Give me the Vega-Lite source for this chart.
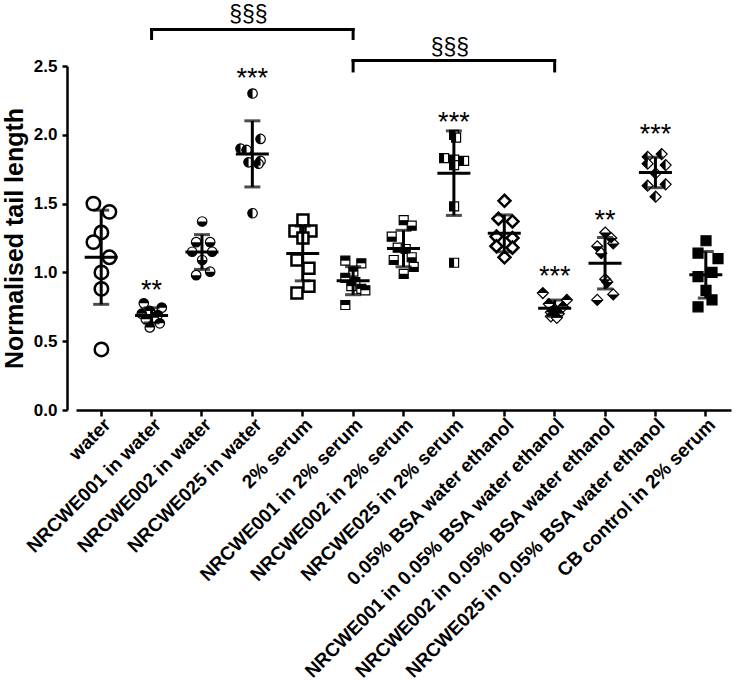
{
"$schema":"https://vega.github.io/schema/vega-lite/v6.json",
"width":675,"height":344,
"autosize":{"type":"none"},
"padding":{"left":67,"top":66,"right":3,"bottom":276},
"background":"white",
"config":{"font":"Liberation Sans","view":{"stroke":null},"axis":{"grid":false,"domainColor":"black","tickColor":"black","labelColor":"black","titleColor":"black","domainWidth":2.5,"tickWidth":2.5}},
"datasets":{
"pts":[
{"group":"water","rep":3,"value":1.50},{"group":"water","rep":11,"value":1.44},{"group":"water","rep":7,"value":1.29},{"group":"water","rep":3,"value":1.22},{"group":"water","rep":11,"value":1.11},{"group":"water","rep":7,"value":1.00},{"group":"water","rep":7,"value":0.88},{"group":"water","rep":7,"value":0.44},
{"group":"NRCWE001 in water","rep":3,"value":0.775},{"group":"NRCWE001 in water","rep":12,"value":0.744},{"group":"NRCWE001 in water","rep":6,"value":0.72},{"group":"NRCWE001 in water","rep":2,"value":0.70},{"group":"NRCWE001 in water","rep":10,"value":0.69},{"group":"NRCWE001 in water","rep":8,"value":0.67},{"group":"NRCWE001 in water","rep":4,"value":0.66},{"group":"NRCWE001 in water","rep":11,"value":0.63},{"group":"NRCWE001 in water","rep":6,"value":0.60},
{"group":"NRCWE002 in water","rep":7,"value":1.37},{"group":"NRCWE002 in water","rep":4,"value":1.22},{"group":"NRCWE002 in water","rep":11,"value":1.22},{"group":"NRCWE002 in water","rep":2,"value":1.15},{"group":"NRCWE002 in water","rep":12,"value":1.15},{"group":"NRCWE002 in water","rep":7,"value":1.09},{"group":"NRCWE002 in water","rep":4,"value":0.98},{"group":"NRCWE002 in water","rep":11,"value":1.005},
{"group":"NRCWE025 in water","rep":7,"value":2.30},{"group":"NRCWE025 in water","rep":11,"value":1.97},{"group":"NRCWE025 in water","rep":1,"value":1.90},{"group":"NRCWE025 in water","rep":4,"value":1.89},{"group":"NRCWE025 in water","rep":11,"value":1.81},{"group":"NRCWE025 in water","rep":5,"value":1.80},{"group":"NRCWE025 in water","rep":10,"value":1.79},{"group":"NRCWE025 in water","rep":7,"value":1.43},
{"group":"2% serum","rep":7,"value":1.38},{"group":"2% serum","rep":3,"value":1.30},{"group":"2% serum","rep":11,"value":1.30},{"group":"2% serum","rep":7,"value":1.25},{"group":"2% serum","rep":4,"value":1.09},{"group":"2% serum","rep":10,"value":1.03},{"group":"2% serum","rep":10,"value":0.90},{"group":"2% serum","rep":4,"value":0.85},
{"group":"NRCWE001 in 2% serum","rep":3,"value":1.085},{"group":"NRCWE001 in 2% serum","rep":11,"value":1.066},{"group":"NRCWE001 in 2% serum","rep":7,"value":1.005},{"group":"NRCWE001 in 2% serum","rep":3,"value":0.96},{"group":"NRCWE001 in 2% serum","rep":8,"value":0.93},{"group":"NRCWE001 in 2% serum","rep":6,"value":0.90},{"group":"NRCWE001 in 2% serum","rep":11,"value":0.88},{"group":"NRCWE001 in 2% serum","rep":13,"value":0.87},{"group":"NRCWE001 in 2% serum","rep":3,"value":0.763},
{"group":"NRCWE002 in 2% serum","rep":7,"value":1.38},{"group":"NRCWE002 in 2% serum","rep":11,"value":1.34},{"group":"NRCWE002 in 2% serum","rep":1,"value":1.26},{"group":"NRCWE002 in 2% serum","rep":4,"value":1.18},{"group":"NRCWE002 in 2% serum","rep":8,"value":1.17},{"group":"NRCWE002 in 2% serum","rep":11,"value":1.11},{"group":"NRCWE002 in 2% serum","rep":2,"value":1.09},{"group":"NRCWE002 in 2% serum","rep":12,"value":1.04},{"group":"NRCWE002 in 2% serum","rep":7,"value":0.99},
{"group":"NRCWE025 in 2% serum","rep":7,"value":2.00},{"group":"NRCWE025 in 2% serum","rep":8,"value":1.98},{"group":"NRCWE025 in 2% serum","rep":2,"value":1.83},{"group":"NRCWE025 in 2% serum","rep":7,"value":1.82},{"group":"NRCWE025 in 2% serum","rep":12,"value":1.81},{"group":"NRCWE025 in 2% serum","rep":7,"value":1.78},{"group":"NRCWE025 in 2% serum","rep":7,"value":1.48},{"group":"NRCWE025 in 2% serum","rep":7,"value":1.07},
{"group":"0.05% BSA water ethanol","rep":7,"value":1.52},{"group":"0.05% BSA water ethanol","rep":4,"value":1.39},{"group":"0.05% BSA water ethanol","rep":11,"value":1.37},{"group":"0.05% BSA water ethanol","rep":3,"value":1.26},{"group":"0.05% BSA water ethanol","rep":11,"value":1.25},{"group":"0.05% BSA water ethanol","rep":3,"value":1.19},{"group":"0.05% BSA water ethanol","rep":11,"value":1.18},{"group":"0.05% BSA water ethanol","rep":7,"value":1.11},
{"group":"NRCWE001 in 0.05% BSA water ethanol","rep":1,"value":0.85},{"group":"NRCWE001 in 0.05% BSA water ethanol","rep":13,"value":0.80},{"group":"NRCWE001 in 0.05% BSA water ethanol","rep":4,"value":0.77},{"group":"NRCWE001 in 0.05% BSA water ethanol","rep":11,"value":0.75},{"group":"NRCWE001 in 0.05% BSA water ethanol","rep":7,"value":0.73},{"group":"NRCWE001 in 0.05% BSA water ethanol","rep":5,"value":0.71},{"group":"NRCWE001 in 0.05% BSA water ethanol","rep":9,"value":0.70},{"group":"NRCWE001 in 0.05% BSA water ethanol","rep":5,"value":0.68},{"group":"NRCWE001 in 0.05% BSA water ethanol","rep":8,"value":0.67},
{"group":"NRCWE002 in 0.05% BSA water ethanol","rep":7,"value":1.29},{"group":"NRCWE002 in 0.05% BSA water ethanol","rep":10,"value":1.25},{"group":"NRCWE002 in 0.05% BSA water ethanol","rep":11,"value":1.21},{"group":"NRCWE002 in 0.05% BSA water ethanol","rep":3,"value":1.19},{"group":"NRCWE002 in 0.05% BSA water ethanol","rep":5,"value":1.14},{"group":"NRCWE002 in 0.05% BSA water ethanol","rep":7,"value":0.95},{"group":"NRCWE002 in 0.05% BSA water ethanol","rep":8,"value":0.93},{"group":"NRCWE002 in 0.05% BSA water ethanol","rep":11,"value":0.84},{"group":"NRCWE002 in 0.05% BSA water ethanol","rep":3,"value":0.80},
{"group":"NRCWE025 in 0.05% BSA water ethanol","rep":10,"value":1.86},{"group":"NRCWE025 in 0.05% BSA water ethanol","rep":3,"value":1.84},{"group":"NRCWE025 in 0.05% BSA water ethanol","rep":3,"value":1.79},{"group":"NRCWE025 in 0.05% BSA water ethanol","rep":12,"value":1.78},{"group":"NRCWE025 in 0.05% BSA water ethanol","rep":7,"value":1.72},{"group":"NRCWE025 in 0.05% BSA water ethanol","rep":12,"value":1.64},{"group":"NRCWE025 in 0.05% BSA water ethanol","rep":3,"value":1.63},{"group":"NRCWE025 in 0.05% BSA water ethanol","rep":7,"value":1.55},
{"group":"CB control in 2% serum","rep":7,"value":1.23},{"group":"CB control in 2% serum","rep":3,"value":1.14},{"group":"CB control in 2% serum","rep":13,"value":1.10},{"group":"CB control in 2% serum","rep":10,"value":1.00},{"group":"CB control in 2% serum","rep":3,"value":0.97},{"group":"CB control in 2% serum","rep":7,"value":0.87},{"group":"CB control in 2% serum","rep":10,"value":0.80},{"group":"CB control in 2% serum","rep":3,"value":0.75}
],
"ann":[
{"group":"NRCWE001 in water","label":"**","y":0.805},
{"group":"NRCWE025 in water","label":"***","y":2.351},
{"group":"NRCWE025 in 2% serum","label":"***","y":2.029},
{"group":"NRCWE001 in 0.05% BSA water ethanol","label":"***","y":0.907},
{"group":"NRCWE002 in 0.05% BSA water ethanol","label":"**","y":1.319},
{"group":"NRCWE025 in 0.05% BSA water ethanol","label":"***","y":1.939}
],
"brackets":[
{"from":"NRCWE001 in water","to":"NRCWE001 in 2% serum","top":2.765,"foot":2.70,"mid":"NRCWE025 in water","label":"§§§","ly":2.82},
{"from":"NRCWE001 in 2% serum","to":"NRCWE001 in 0.05% BSA water ethanol","top":2.54,"foot":2.464,"mid":"NRCWE025 in 2% serum","label":"§§§","ly":2.58}
]
},
"encoding":{
"x":{"field":"group","type":"nominal","scale":{"type":"band","domain":["water","NRCWE001 in water","NRCWE002 in water","NRCWE025 in water","2% serum","NRCWE001 in 2% serum","NRCWE002 in 2% serum","NRCWE025 in 2% serum","0.05% BSA water ethanol","NRCWE001 in 0.05% BSA water ethanol","NRCWE002 in 0.05% BSA water ethanol","NRCWE025 in 0.05% BSA water ethanol","CB control in 2% serum"],"range":[9,664],"paddingInner":0,"paddingOuter":0},
"axis":{"title":null,"labelAngle":-45,"labelFontSize":19,"labelFontWeight":"bold","labelLimit":600,"tickSize":6,"labelPadding":-1,"bandPosition":0.5}},
"y":{"field":"value","type":"quantitative","scale":{"domain":[0,2.5],"nice":false},
"axis":{"title":"Normalised tail length","titleFontSize":25,"titleFontWeight":"bold","titlePadding":6,"values":[0,0.5,1,1.5,2,2.5],"format":".1f","labelFontSize":17,"labelFontWeight":"bold","tickSize":5,"labelPadding":5}}
},
"layer":[
{"data":{"name":"pts"},
"mark":{"type":"point","filled":false,"stroke":"black","opacity":1},
"encoding":{
"xOffset":{"field":"rep","type":"ordinal","scale":{"type":"point","domain":[1,2,3,4,5,6,7,8,9,10,11,12,13],"range":[13.4,37.4],"padding":0}},
"shape":{"field":"group","type":"nominal","legend":null,"scale":{"domain":["water","NRCWE001 in water","NRCWE002 in water","NRCWE025 in water","2% serum","NRCWE001 in 2% serum","NRCWE002 in 2% serum","NRCWE025 in 2% serum","0.05% BSA water ethanol","NRCWE001 in 0.05% BSA water ethanol","NRCWE002 in 0.05% BSA water ethanol","NRCWE025 in 0.05% BSA water ethanol","CB control in 2% serum"],"range":["circle","circle","circle","circle","square","square","square","square","diamond","diamond","diamond","diamond","square"]}},
"fill":{"condition":{"test":"datum.group === 'CB control in 2% serum'","value":"black"},"value":"white"},
"strokeWidth":{"condition":{"test":"datum.group === 'water' || datum.group === '2% serum' || datum.group === '0.05% BSA water ethanol'","value":2.5},"value":1.2},
"size":{"condition":[
{"test":"datum.group === 'water'","value":180},
{"test":"datum.group === '2% serum'","value":121},
{"test":"datum.group === '0.05% BSA water ethanol'","value":144},
{"test":"datum.group === 'CB control in 2% serum'","value":100},
{"test":"indexof(datum.group,'BSA') >= 0","value":121},
{"test":"indexof(datum.group,'serum') >= 0","value":81}
],"value":90}
}},
{"data":{"name":"pts"},
"transform":[{"filter":"indexof(datum.group,'NRCWE') === 0"}],
"mark":{"type":"point","filled":true,"fill":"black","strokeWidth":0,"opacity":1},
"encoding":{
"xOffset":{"field":"rep","type":"ordinal","scale":{"type":"point","domain":[1,2,3,4,5,6,7,8,9,10,11,12,13],"range":[13.4,37.4],"padding":0}},
"shape":{"field":"group","type":"nominal","legend":null,"scale":{"domain":["NRCWE001 in water","NRCWE002 in water","NRCWE025 in water","NRCWE001 in 2% serum","NRCWE002 in 2% serum","NRCWE025 in 2% serum","NRCWE001 in 0.05% BSA water ethanol","NRCWE002 in 0.05% BSA water ethanol","NRCWE025 in 0.05% BSA water ethanol"],"range":["M -1 0 A 1 1 0 0 1 1 0 Z","M -1 0 A 1 1 0 0 0 1 0 Z","M 0 -1 A 1 1 0 0 0 0 1 Z","M -1 -1 L 1 -1 L 1 0 L -1 0 Z","M -1 0 L 1 0 L 1 1 L -1 1 Z","M -1 -1 L 0 -1 L 0 1 L -1 1 Z","M -1 0 L 0 -1 L 1 0 Z","M -1 0 L 1 0 L 0 1 Z","M 0 -1 L -1 0 L 0 1 Z"]}},
"size":{"condition":[
{"test":"indexof(datum.group,'BSA') >= 0","value":121},
{"test":"indexof(datum.group,'serum') >= 0","value":81}
],"value":90}
}},
{"data":{"name":"pts"},
"mark":{"type":"errorbar","extent":"stdev","color":"black","thickness":3,"ticks":{"size":16,"thickness":3,"color":"black"},"rule":{"strokeWidth":3,"color":"black"}}},
{"data":{"name":"pts"},
"mark":{"type":"tick","size":33,"thickness":3,"color":"black","opacity":1},
"encoding":{"y":{"aggregate":"mean","field":"value","type":"quantitative"}}},
{"data":{"name":"ann"},
"mark":{"type":"text","fontSize":27,"baseline":"alphabetic","align":"center","color":"black"},
"encoding":{"y":{"field":"y","type":"quantitative"},"text":{"field":"label"}}},
{"data":{"name":"brackets"},
"mark":{"type":"rule","strokeWidth":3,"color":"black","strokeCap":"square"},
"encoding":{"x":{"field":"from","type":"nominal","bandPosition":0.5},"x2":{"field":"to","bandPosition":0.5},"y":{"field":"top","type":"quantitative"}}},
{"data":{"name":"brackets"},
"mark":{"type":"rule","strokeWidth":3,"color":"black","strokeCap":"square"},
"encoding":{"x":{"field":"from","type":"nominal","bandPosition":0.5},"y":{"field":"top","type":"quantitative"},"y2":{"field":"foot"}}},
{"data":{"name":"brackets"},
"mark":{"type":"rule","strokeWidth":3,"color":"black","strokeCap":"square"},
"encoding":{"x":{"field":"to","type":"nominal","bandPosition":0.5},"y":{"field":"top","type":"quantitative"},"y2":{"field":"foot"}}},
{"data":{"name":"brackets"},
"mark":{"type":"text","fontSize":23,"baseline":"alphabetic","align":"center","color":"black","dx":-4},
"encoding":{"x":{"field":"mid","type":"nominal"},"y":{"field":"ly","type":"quantitative"},"text":{"field":"label"}}}
],
"resolve":{"scale":{"shape":"independent"}}
}
